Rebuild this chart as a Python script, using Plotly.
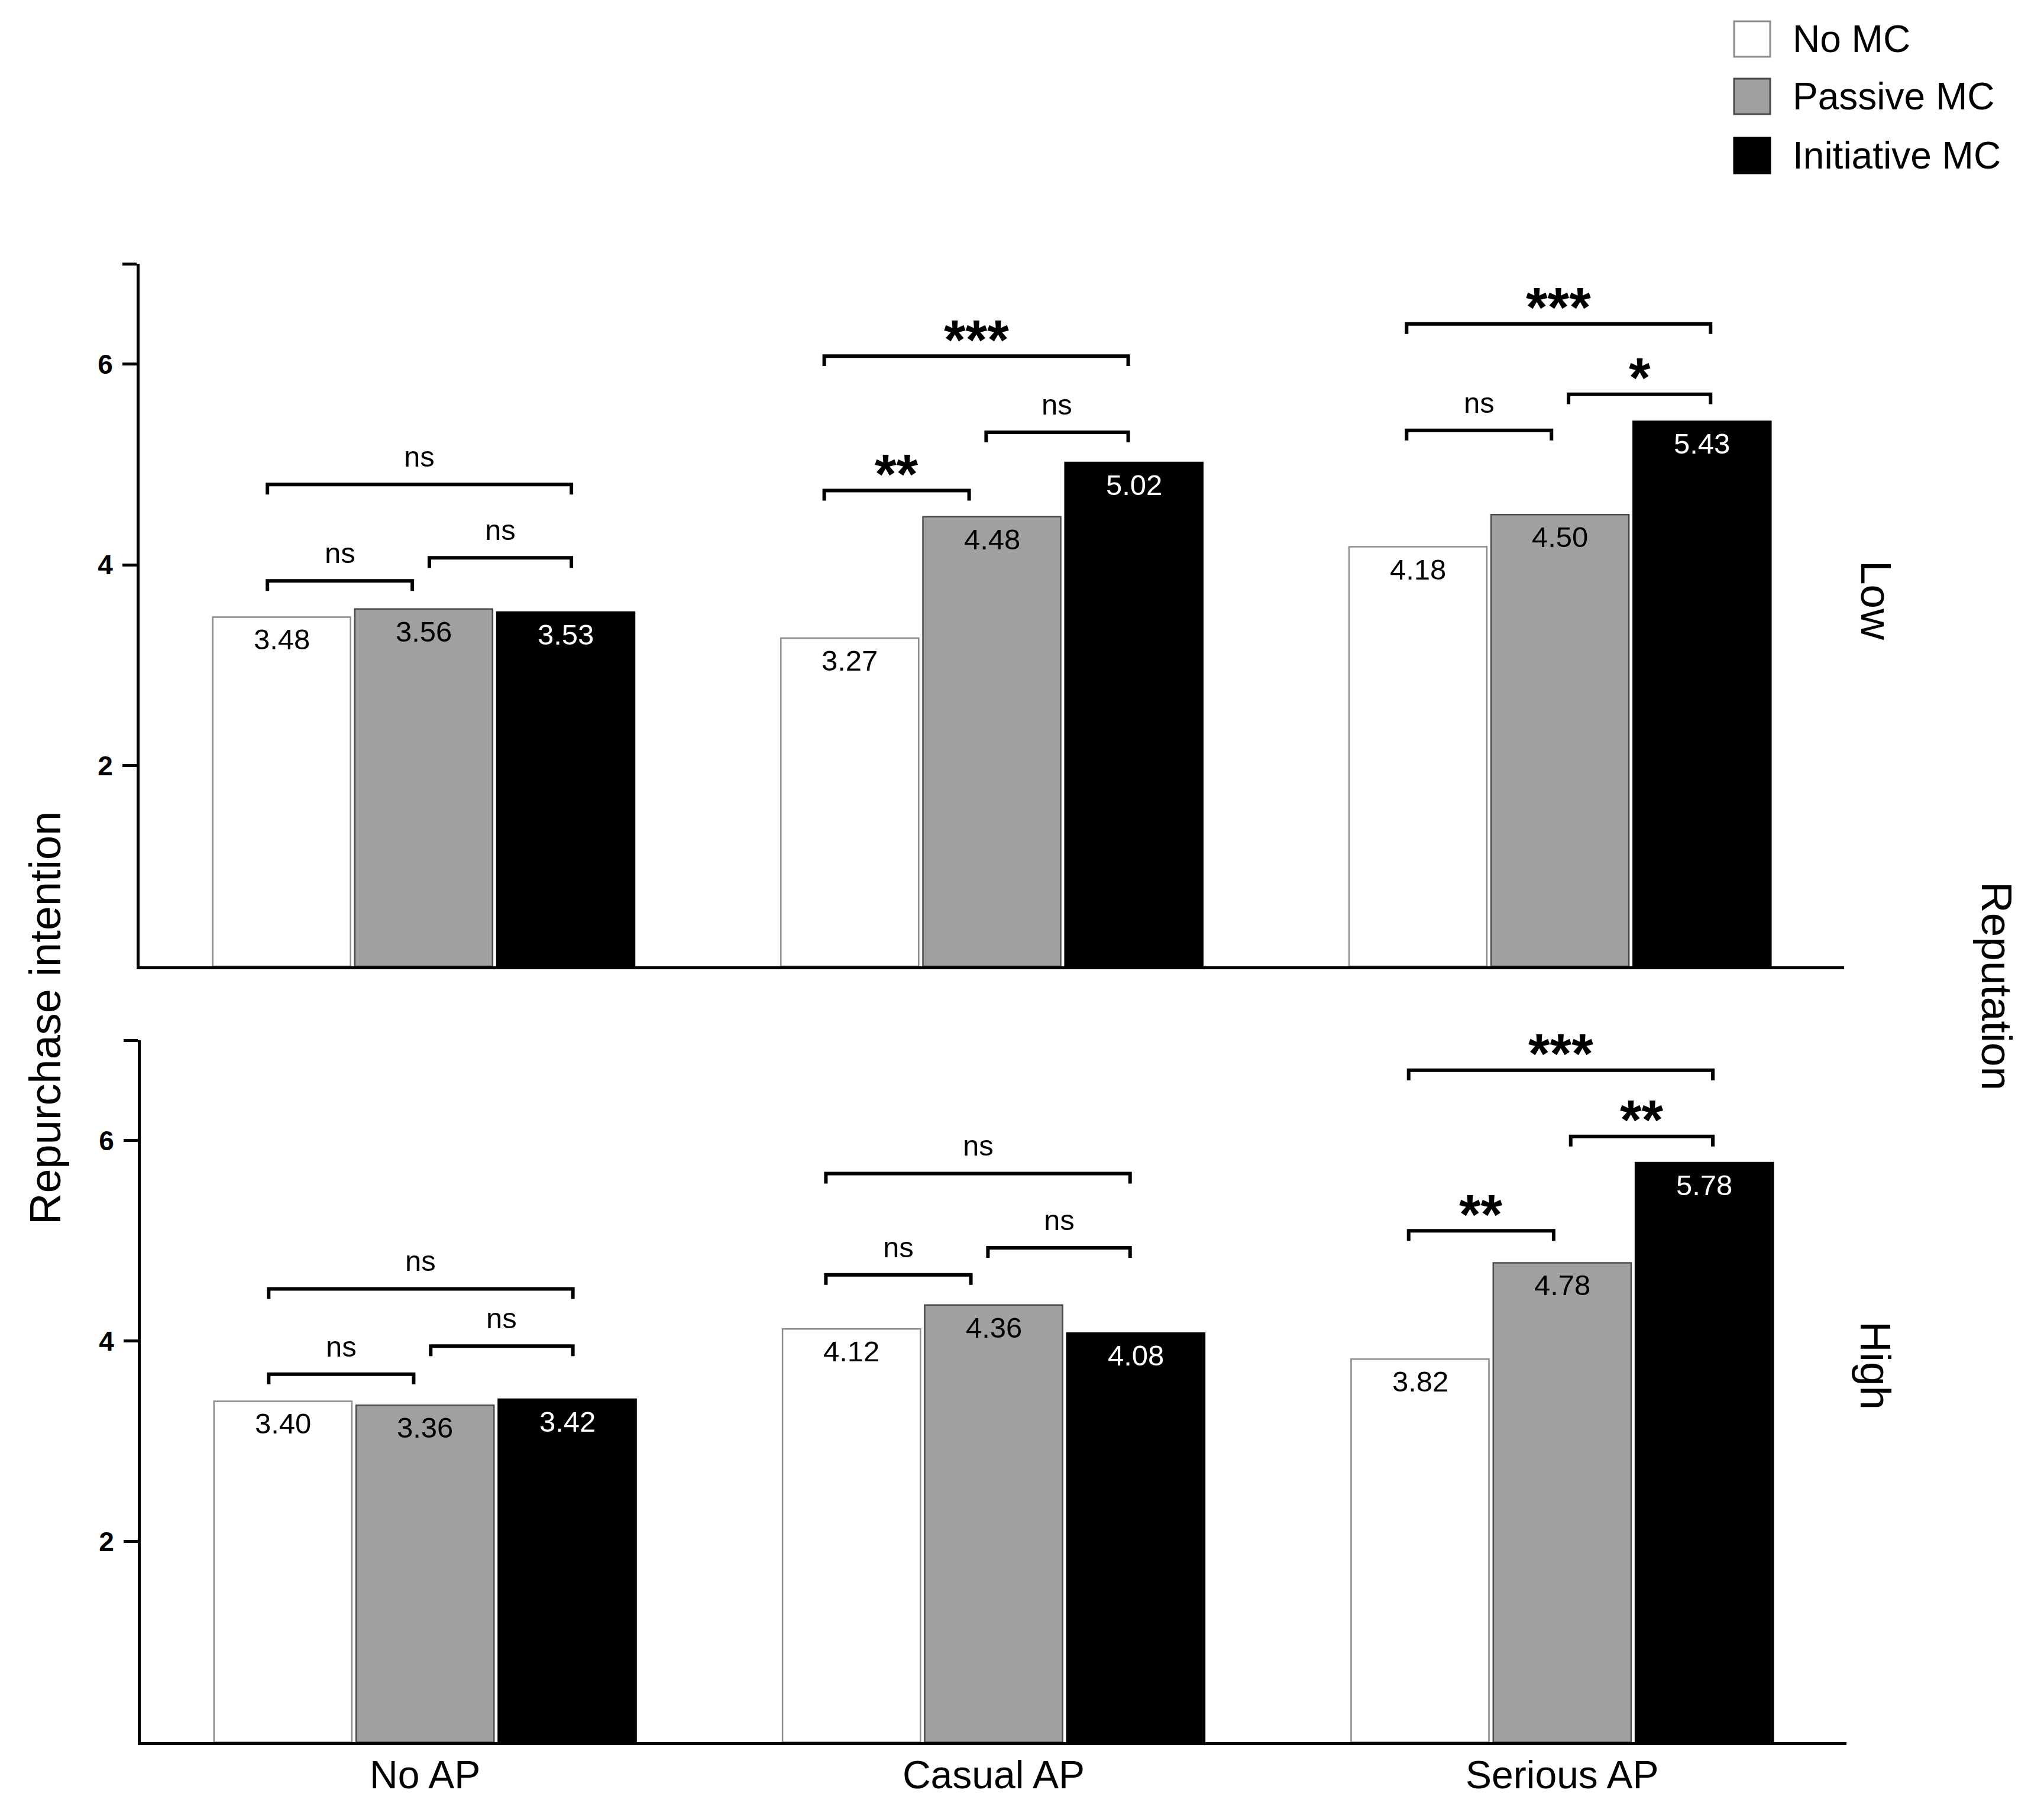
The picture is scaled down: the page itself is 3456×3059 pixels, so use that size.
import plotly.graph_objects as go

categories = ["No AP", "Casual AP", "Serious AP"]
series = ["No MC", "Passive MC", "Initiative MC"]
panels = ["Low", "High"]

low_no_mc = [3.48, 3.27, 4.18]
low_passive_mc = [3.56, 4.48, 4.50]
low_initiative_mc = [3.53, 5.02, 5.43]

high_no_mc = [3.40, 4.12, 3.82]
high_passive_mc = [3.36, 4.36, 4.78]
high_initiative_mc = [3.42, 4.08, 5.78]

# significance brackets: (group, bar_from, bar_to, bracket height, label)
low_brackets = [
    (0, 0, 1, 3.84, "ns"), (0, 1, 2, 4.07, "ns"), (0, 0, 2, 4.80, "ns"),
    (1, 0, 1, 4.74, "**"), (1, 1, 2, 5.32, "ns"), (1, 0, 2, 6.08, "***"),
    (2, 0, 1, 5.34, "ns"), (2, 1, 2, 5.70, "*"), (2, 0, 2, 6.40, "***"),
]
high_brackets = [
    (0, 0, 1, 3.67, "ns"), (0, 1, 2, 3.95, "ns"), (0, 0, 2, 4.52, "ns"),
    (1, 0, 1, 4.66, "ns"), (1, 1, 2, 4.93, "ns"), (1, 0, 2, 5.67, "ns"),
    (2, 0, 1, 5.10, "**"), (2, 1, 2, 6.04, "**"), (2, 0, 2, 6.70, "***"),
]

FONT = "Liberation Sans, Arial, Helvetica, sans-serif"
FILLS = ["#ffffff", "#a0a0a2", "#000000"]
EDGES = ["#8c8c8c", "#4a4a4a", "#000000"]
TEXT_COLORS = ["#000000", "#000000", "#ffffff"]

# the page body has an 8px margin, so the figure is a little smaller than
# the window and everything below is given in window pixels
PAGE_W, PAGE_H, BODY = 3456, 3059, 8
W, H = PAGE_W - 2 * BODY, PAGE_H - 2 * BODY


def px(x):
    return (x - BODY) / W


def py(y):
    return 1 - (y - BODY) / H


X_DOMS = [[px(236), px(3118)], [px(238), px(3122)]]
Y_DOMS = [[py(1634), py(446)], [py(2946), py(1759)]]

BAR_PITCH = 0.25  # slot of one bar inside a group: (1 - bargap) / 3
GROUP_NUDGE = [-0.005, -0.025, 0.0]
TICK_DROP = 0.1

panel_values = [
    [low_no_mc, low_passive_mc, low_initiative_mc],
    [high_no_mc, high_passive_mc, high_initiative_mc],
]
panel_brackets = [low_brackets, high_brackets]

fig = go.Figure()
annotations = []

for p in range(2):
    xa = "x" if p == 0 else "x2"
    ya = "y" if p == 0 else "y2"
    for k, name in enumerate(series):
        vals = panel_values[p][k]
        xs = list(range(len(categories)))
        fig.add_trace(go.Bar(
            x=xs, y=vals, name=name,
            marker=dict(color=FILLS[k], line=dict(color=EDGES[k], width=2.5)),
            showlegend=False, hoverinfo="skip", xaxis=xa, yaxis=ya,
        ))
        for g, v in zip(xs, vals):
            annotations.append(dict(
                x=g + (k - 1) * BAR_PITCH, y=v, xref=xa, yref=ya,
                text=f"{v:.2f}", showarrow=False,
                xanchor="center", yanchor="middle", yshift=-38,
                font=dict(family=FONT, size=49, color=TEXT_COLORS[k]),
            ))

    bx, by = [], []
    for g, i, j, h, label in panel_brackets[p]:
        ci = g + (i - 1) * BAR_PITCH + GROUP_NUDGE[g]
        cj = g + (j - 1) * BAR_PITCH + GROUP_NUDGE[g]
        x0 = ci - 0.02 if i == 0 else ci + 0.015
        x1 = cj + 0.015 if j == 2 else cj - 0.015
        bx += [x0, x0, x1, x1, None]
        by += [h - TICK_DROP, h, h, h - TICK_DROP, None]
        stars = label.startswith("*")
        annotations.append(dict(
            x=(x0 + x1) / 2, y=h + 0.26, xref=xa, yref=ya, text=label,
            showarrow=False, xanchor="center", yanchor="middle",
            yshift=-16 if stars else 3,
            font=dict(family=FONT, size=94 if stars else 49, color="black",
                      weight="bold" if stars else "normal"),
        ))
    fig.add_trace(go.Scatter(
        x=bx, y=by, mode="lines", line=dict(color="black", width=6),
        showlegend=False, hoverinfo="skip", xaxis=xa, yaxis=ya,
    ))

# legend drawn by hand so the swatches keep their size
legend_rows = [66, 163, 263]
shapes = []
for k, name in enumerate(series):
    yc = legend_rows[k]
    shapes.append(dict(
        type="rect", xref="paper", yref="paper",
        x0=px(2932), x1=px(2993), y0=py(yc + 30), y1=py(yc - 30),
        fillcolor=FILLS[k], line=dict(color=EDGES[k], width=3),
    ))
    annotations.append(dict(
        x=px(3029), y=py(yc), xref="paper", yref="paper", text=name,
        showarrow=False, xanchor="left", yanchor="middle",
        font=dict(family=FONT, size=64, color="black"),
    ))

side_labels = [
    ("Repurchase intention", 77, 1722, -90, 74),
    ("Reputation", 3377, 1667, 90, 73),
    (panels[0], 3172, 1015, 90, 73),
    (panels[1], 3172, 2309, 90, 73),
]
for text, x, y, angle, size in side_labels:
    annotations.append(dict(
        x=px(x), y=py(y), xref="paper", yref="paper", text=text,
        textangle=angle, showarrow=False, xanchor="center", yanchor="middle",
        font=dict(family=FONT, size=size, color="black"),
    ))

x_common = dict(
    range=[-0.5, 2.5], showline=True, linecolor="black",
    linewidth=5, ticks="", showgrid=False, zeroline=False, fixedrange=True,
)
y_common = dict(
    range=[0, 7], tickvals=[2, 4, 6, 7], ticktext=["2", "4", "6", ""],
    ticks="outside", ticklen=24, tickwidth=5, tickcolor="black",
    tickfont=dict(family=FONT, size=46, color="black", weight="bold"),
    ticklabelstandoff=7,
    showline=True, linecolor="black", linewidth=5,
    showgrid=False, zeroline=False, fixedrange=True,
)

fig.update_layout(
    width=W, height=H,
    margin=dict(l=0, r=0, t=0, b=0),
    paper_bgcolor="white", plot_bgcolor="white",
    font=dict(family=FONT, color="black"),
    barmode="group", bargap=0.25, bargroupgap=0.03,
    xaxis=dict(x_common, domain=X_DOMS[0], anchor="y", showticklabels=False),
    xaxis2=dict(x_common, domain=X_DOMS[1], anchor="y2", tickvals=[0, 1, 2],
                ticktext=categories, ticklabelstandoff=-6,
                tickfont=dict(family=FONT, size=66, color="black")),
    yaxis=dict(y_common, domain=Y_DOMS[0], anchor="x"),
    yaxis2=dict(y_common, domain=Y_DOMS[1], anchor="x2"),
    shapes=shapes,
    annotations=annotations,
)

fig.write_html("out.html")
